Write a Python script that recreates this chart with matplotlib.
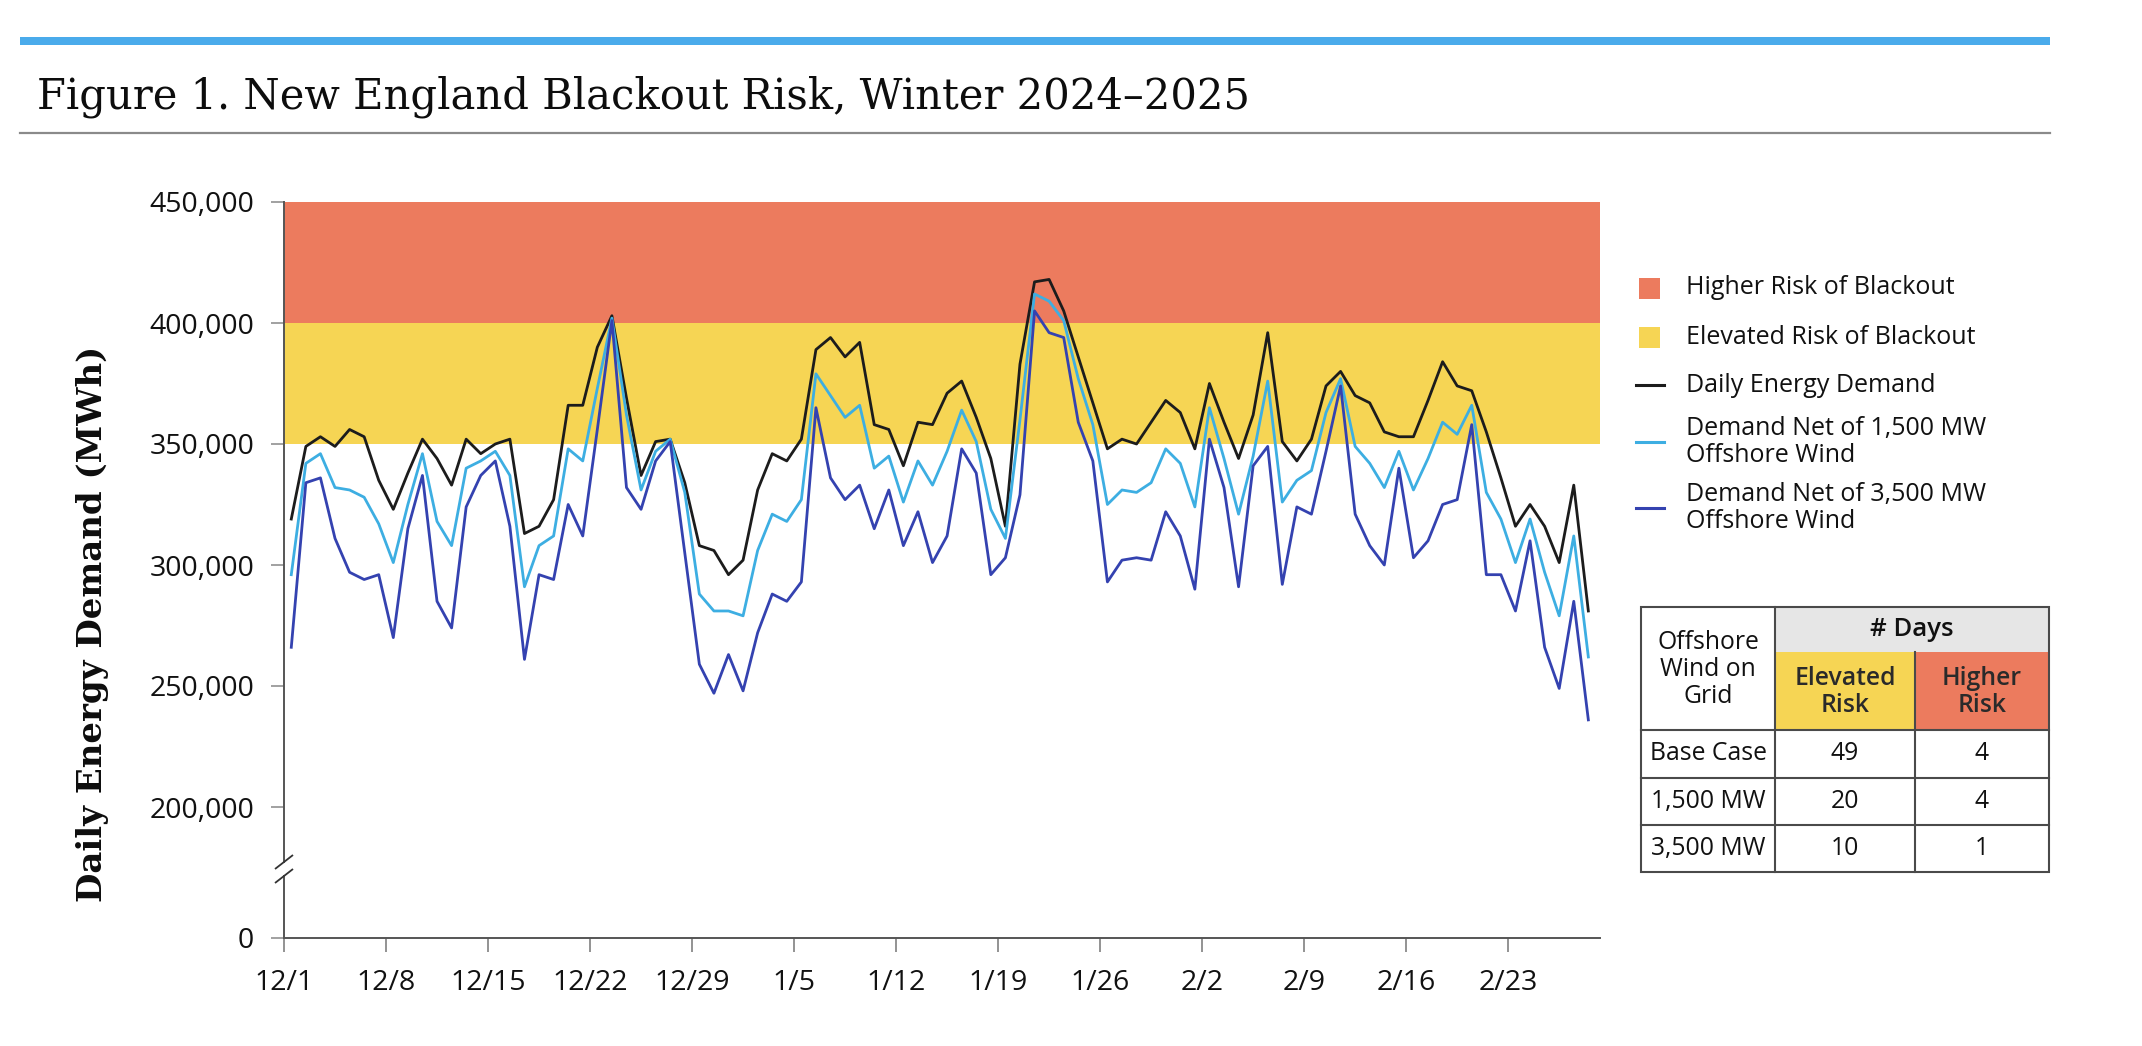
import numpy as np
import matplotlib
matplotlib.use("Agg")
import matplotlib.pyplot as plt
from matplotlib.patches import Rectangle

# ---------------- data (MWh, thousands) ----------------
days = np.arange(90)  # 12/1/2024 .. 2/28/2025
demand_k = [319, 349, 353, 349, 356, 353, 335, 323, 338, 352,
            344, 333, 352, 346, 350, 352, 313, 316, 327, 366,
            366, 390, 403, 369, 337, 351, 352, 334, 308, 306,
            296, 302, 331, 346, 343, 352, 389, 394, 386, 392,
            358, 356, 341, 359, 358, 371, 376, 361, 344, 316,
            383, 417, 418, 405, 386, 367, 348, 352, 350, 359,
            368, 363, 348, 375, 359, 344, 362, 396, 351, 343,
            352, 374, 380, 370, 367, 355, 353, 353, 368, 384,
            374, 372, 355, 336, 316, 325, 316, 301, 333, 281]
net1500_k = [296, 342, 346, 332, 331, 328, 317, 301, 325, 346,
             318, 308, 340, 343, 347, 337, 291, 308, 312, 348,
             343, 373, 402, 362, 331, 347, 352, 330, 288, 281,
             281, 279, 306, 321, 318, 327, 379, 370, 361, 366,
             340, 345, 326, 343, 333, 347, 364, 351, 323, 311,
             360, 412, 409, 401, 377, 358, 325, 331, 330, 334,
             348, 342, 324, 365, 344, 321, 345, 376, 326, 335,
             339, 363, 377, 349, 342, 332, 347, 331, 344, 359,
             354, 366, 330, 319, 301, 319, 297, 279, 312, 262]
net3500_k = [266, 334, 336, 311, 297, 294, 296, 270, 315, 337,
             285, 274, 324, 337, 343, 316, 261, 296, 294, 325,
             312, 356, 401, 332, 323, 343, 351, 305, 259, 247,
             263, 248, 272, 288, 285, 293, 365, 336, 327, 333,
             315, 331, 308, 322, 301, 312, 348, 338, 296, 303,
             329, 405, 396, 394, 359, 343, 293, 302, 303, 302,
             322, 312, 290, 352, 332, 291, 341, 349, 292, 324,
             321, 347, 374, 321, 308, 300, 340, 303, 310, 325,
             327, 358, 296, 296, 281, 310, 266, 249, 285, 236]

tick_days = [0, 7, 14, 21, 28, 35, 42, 49, 56, 63, 70, 77, 84]
tick_labels = ["12/1", "12/8", "12/15", "12/22", "12/29", "1/5", "1/12",
               "1/19", "1/26", "2/2", "2/9", "2/16", "2/23"]
y_ticks = [200000, 250000, 300000, 350000, 400000, 450000]

elevated_lo, higher_lo, top_val = 350000, 400000, 450000

legend_labels = ["Higher Risk of Blackout", "Elevated Risk of Blackout",
                 "Daily Energy Demand", "Demand Net of 1,500 MW\nOffshore Wind",
                 "Demand Net of 3,500 MW\nOffshore Wind"]

table_rows = ["Base Case", "1,500 MW", "3,500 MW"]
table_elevated = [49, 20, 10]
table_higher = [4, 4, 1]

# ---------------- style ----------------
C_HIGH = "#EC7B5E"
C_ELEV = "#F6D554"
C_BLACK = "#1c1c1c"
C_LIGHT = "#3DAEE2"
C_DARK = "#3442B0"
SANS = "Open Sans"
SW = 500
W, H = 2142, 1046

fig = plt.figure(figsize=(W / 100, H / 100), dpi=100)

def fx(x):
    return x / W

def fy(y):
    return 1 - y / H

# main axes (pixel geometry: x 284..1600, y 202..862)
ax = fig.add_axes([fx(284), fy(862), fx(1600) - fx(284), fy(202) - fy(862)])
ymin_top = top_val - (862 - 202) / 121 * 50000
ax.axhspan(higher_lo, top_val, color=C_HIGH, lw=0, zorder=0)
ax.axhspan(elevated_lo, higher_lo, color=C_ELEV, lw=0, zorder=0)
d = np.array(demand_k) * 1000
n1 = np.array(net1500_k) * 1000
n3 = np.array(net3500_k) * 1000
ax.plot(days, d, color=C_BLACK, lw=2.0, zorder=3)
ax.plot(days, n1, color=C_LIGHT, lw=2.0, zorder=4)
ax.plot(days, n3, color=C_DARK, lw=2.0, zorder=5)
ax.set_xlim(-0.5, 89.8)
ax.set_ylim(ymin_top, top_val)
for s in ["top", "right", "bottom"]:
    ax.spines[s].set_visible(False)
ax.spines["left"].set_color("#555555")
ax.spines["left"].set_linewidth(1.4)
ax.set_xticks([])
ax.set_yticks(y_ticks)
ax.set_yticklabels([f"{v:,}" for v in y_ticks], fontfamily=SANS, fontweight=SW,
                   fontsize=20.5, color="#111111")
ax.tick_params(axis="y", length=9.5, width=1.3, color="#9a9a9a", pad=12)

# lower axes showing zero
ax2 = fig.add_axes([fx(284), fy(938), fx(1600) - fx(284), fy(876) - fy(938)])
ax2.patch.set_alpha(0)
ax2.set_xlim(-0.5, 89.8)
ax2.set_ylim(0, 1)
for s in ["top", "right"]:
    ax2.spines[s].set_visible(False)
for s in ["left", "bottom"]:
    ax2.spines[s].set_color("#555555")
    ax2.spines[s].set_linewidth(1.4)
ax2.set_yticks([0])
ax2.set_yticklabels(["0"], fontfamily=SANS, fontweight=SW, fontsize=20.5, color="#111111")
ax2.tick_params(axis="y", length=9.5, width=1.3, color="#9a9a9a", pad=12)
ax2.set_xticks([t - 0.5 for t in tick_days])
ax2.set_xticklabels(tick_labels, fontfamily=SANS, fontweight=SW, fontsize=20.5, color="#111111")
ax2.tick_params(axis="x", length=10, width=1.3, color="#8a8a8a", pad=12)

# overlay in pixel coordinates
ov = fig.add_axes([0, 0, 1, 1], zorder=10)
ov.set_xlim(0, W)
ov.set_ylim(H, 0)
ov.axis("off")
ov.patch.set_alpha(0)

# top blue bar and rule
ov.add_patch(Rectangle((20, 37), 2030, 8, color="#4AABEB", lw=0))
ov.plot([20, 2050], [133, 133], color="#8a8a8a", lw=1.6)
ov.text(37, 109, "Figure 1. New England Blackout Risk, Winter 2024\u20132025",
        fontfamily="DejaVu Serif", fontsize=30, color="#0d0d0d", va="baseline", ha="left")

# y label
ov.text(93, 624, "Daily Energy Demand (MWh)", fontfamily="DejaVu Serif", fontweight="bold",
        fontsize=24.5, rotation=90, ha="center", va="center", color="#0d0d0d")

# axis break marks
for yc in (862, 876):
    ov.plot([275, 293], [yc + 7, yc - 7], color="#333333", lw=1.3, solid_capstyle="butt")

# legend
leg_rows = [288, 337, 385, 442, 508]
handles = [("patch", C_HIGH), ("patch", C_ELEV), ("line", C_BLACK), ("line", C_LIGHT), ("line", C_DARK)]
for (kind, col), yc, lab in zip(handles, leg_rows, legend_labels):
    if kind == "patch":
        ov.add_patch(Rectangle((1639, yc - 10.5), 21, 21, color=col, lw=0))
    else:
        ov.plot([1636, 1664], [yc, yc], color=col, lw=2.2)
    ov.text(1686, yc, lab, fontfamily=SANS, fontweight=SW, fontsize=18, color="#111111",
            va="center", ha="left", linespacing=1.15)

# table
x0, x1, x2, x3 = 1641, 1775, 1915, 2049
ys = [607, 652, 730, 778, 825, 872]
ov.add_patch(Rectangle((x1, ys[0]), x3 - x1, ys[1] - ys[0], color="#E6E6E6", lw=0))
ov.add_patch(Rectangle((x1, ys[1]), x2 - x1, ys[2] - ys[1], color=C_ELEV, lw=0))
ov.add_patch(Rectangle((x2, ys[1]), x3 - x2, ys[2] - ys[1], color=C_HIGH, lw=0))
lc, lw_t = "#4a4a4a", 1.5
ov.add_patch(Rectangle((x0, ys[0]), x3 - x0, ys[5] - ys[0], fill=False, ec=lc, lw=lw_t))
ov.plot([x1, x1], [ys[0], ys[5]], color=lc, lw=lw_t)
ov.plot([x2, x2], [ys[1], ys[5]], color=lc, lw=lw_t)
for yy in ys[2:5]:
    ov.plot([x0, x3], [yy, yy], color=lc, lw=lw_t)
tfs = 17.8
tc = "#111111"
hw = "semibold"
ov.text((x0 + x1) / 2, (ys[0] + ys[2]) / 2 + 1, "Offshore\nWind on\nGrid", fontfamily=SANS,
        fontweight=SW, fontsize=tfs, ha="center", va="center", color=tc, linespacing=1.12)
ov.text((x1 + x3) / 2, (ys[0] + ys[1]) / 2, "# Days", fontfamily=SANS, fontweight=hw,
        fontsize=18.5, ha="center", va="center", color=tc)
ov.text((x1 + x2) / 2, (ys[1] + ys[2]) / 2 + 1, "Elevated\nRisk", fontfamily=SANS, fontweight=hw,
        fontsize=tfs, ha="center", va="center", color="#2a2a2a", linespacing=1.12)
ov.text((x2 + x3) / 2, (ys[1] + ys[2]) / 2 + 1, "Higher\nRisk", fontfamily=SANS, fontweight=hw,
        fontsize=tfs, ha="center", va="center", color="#2a2a2a", linespacing=1.12)
for i, (rname, ev, hv) in enumerate(zip(table_rows, table_elevated, table_higher)):
    yc = (ys[2 + i] + ys[3 + i]) / 2
    ov.text((x0 + x1) / 2, yc, rname, fontfamily=SANS, fontweight=SW, fontsize=tfs,
            ha="center", va="center", color=tc)
    ov.text((x1 + x2) / 2, yc, str(ev), fontfamily=SANS, fontweight=SW, fontsize=tfs,
            ha="center", va="center", color=tc)
    ov.text((x2 + x3) / 2, yc, str(hv), fontfamily=SANS, fontweight=SW, fontsize=tfs,
            ha="center", va="center", color=tc)

fig.savefig("out.png", dpi=100, facecolor="white")
